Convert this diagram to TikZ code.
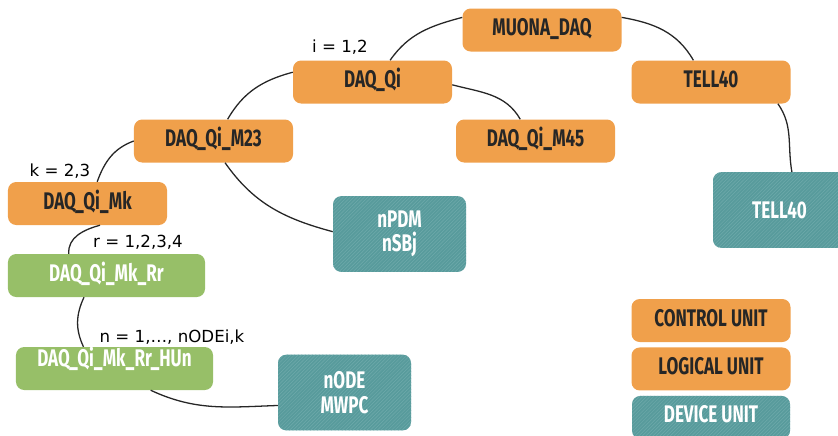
\documentclass[tikz,border=0pt]{standalone}
\usepackage{fontspec}
\usetikzlibrary{positioning, patterns}

\newfontfamily\unitfont[FakeStretch=0.71]{Fira Sans}
\newfontfamily\labelfont{DejaVu Sans}

\definecolor{ctrlorange}{HTML}{F0A04B}
\definecolor{logicgreen}{HTML}{97BF68}
\definecolor{devteal}{HTML}{589B9C}
\definecolor{devstripe}{HTML}{6FAAAB}
\definecolor{darktext}{HTML}{262626}

\begin{document}
\begin{tikzpicture}[
    x=0.03cm, y=-0.03cm,
    unit/.style={rectangle, rounded corners=7pt, minimum width=4.77cm, minimum height=1.29cm, inner sep=0pt, align=center, text height=0.45cm, text depth=0.12cm, font=\unitfont\bfseries\fontsize{20.5}{21}\selectfont},
    control/.style={unit, fill=ctrlorange, text=darktext},
    logical/.style={unit, fill=logicgreen, text=white, minimum width=5.91cm},
    device/.style={unit, preaction={fill=devteal}, pattern=north east lines, pattern color=devstripe, text=white, minimum width=3.99cm, minimum height=2.27cm, text height=, text depth=},
    idx/.style={font=\labelfont\fontsize{14.2}{15}\selectfont, inner sep=0pt},
    link/.style={line width=1.1pt, black!85}
]
\useasboundingbox (0,0) rectangle (838,435);

% Control units
\node[control] (muona) at (542,30) {MUONA\_DAQ};
\node[control] (qi) at (372.5,82) {DAQ\_Qi};
\node[control] (tellc) at (711,82) {TELL40};
\node[control] (m23) at (213.5,141) {DAQ\_Qi\_M23};
\node[control] (m45) at (535.5,141) {DAQ\_Qi\_M45};
\node[control] (mk) at (87.5,203.5) {DAQ\_Qi\_Mk};

% Logical units
\node[logical] (rr) at (106.5,275.5) {DAQ\_Qi\_Mk\_Rr};
\node[logical, text depth=0.6cm] (hun) at (114.5,368.5) {DAQ\_Qi\_Mk\_Rr\_HUn};

% Device units
\node[device] (npdm) at (399.5,234) {nPDM\\nSBj};
\node[device] (telld) at (779.5,210) {TELL40};
\node[device] (node) at (344.5,392.5) {nODE\\MWPC};

% Index labels
\node[idx] (ilab) at (340,47) {i = 1,2};
\node[idx] (klab) at (60,171) {k = 2,3};
\node[idx] (rlab) at (138,242) {r = 1,2,3,4};
\node[idx] (nlab) at (172,337) {n = 1,…, nODEi,k};

% Legend
\node[control] (legctrl) at (711,320.5) {CONTROL UNIT};
\node[control, below=0.15cm of legctrl] (leglogic) {LOGICAL UNIT};
\node[device, minimum width=4.74cm, minimum height=1.29cm, text height=0.45cm, text depth=0.12cm, below=0.15cm of leglogic] (legdev) {DEVICE UNIT};

% Connections
\draw[link] (qi.51) to[out=55, in=195] (muona.171);
\draw[link] (muona.9) to[out=-10, in=120] (tellc.129);
\draw[link] (tellc.-18) to[out=-55, in=100] (telld.72);
\draw[link] (qi.173) to[out=195, in=60] (m23.57);
\draw[link] (qi.-2) to[out=-15, in=120] (m45.125);
\draw[link] (m23.180) to[out=200, in=70] (mk.66);
\draw[link] (m23.-62) to[out=-55, in=165] (npdm.178);
\draw[link] (mk.-60) to[out=195, in=95] (rr.150);
\draw[link] (rr.-136) to[out=245, in=115] (hun.145);
\draw[link] (hun.-31) to[out=-25, in=182] (node.191);

\end{tikzpicture}
\end{document}
